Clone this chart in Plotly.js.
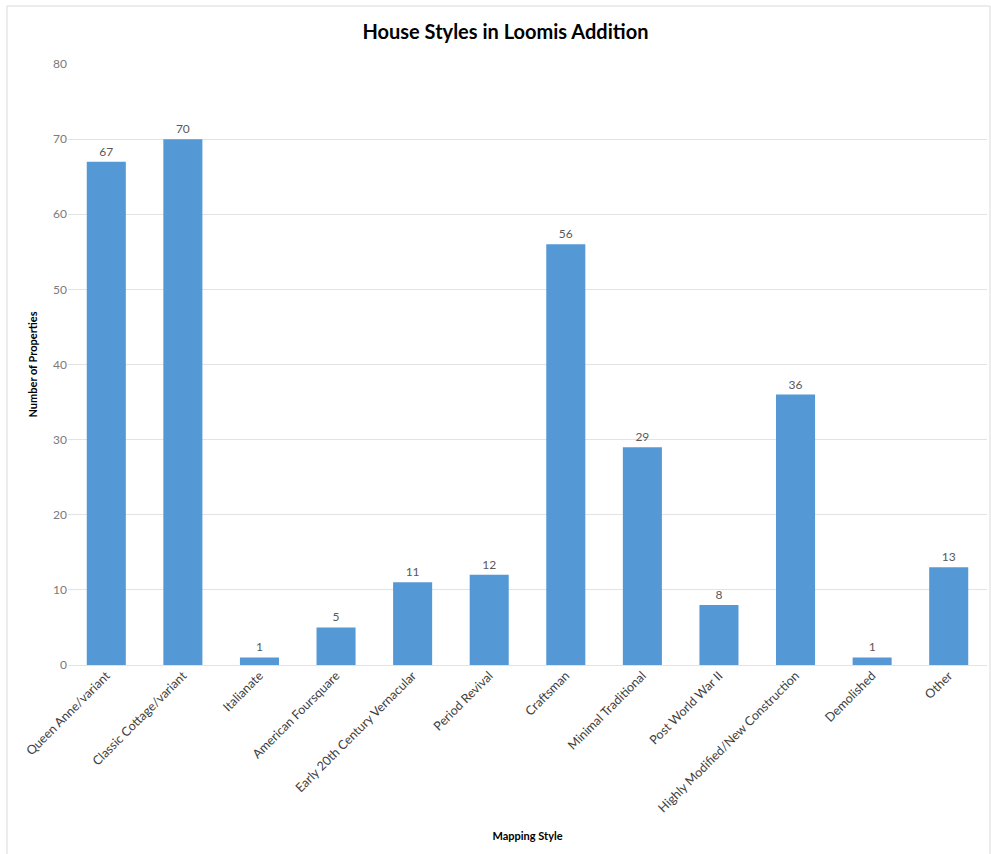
<!DOCTYPE html>
<html>
<head>
<meta charset="utf-8">
<script src="https://cdn.plot.ly/plotly-3.0.1.min.js"></script>
<style>html,body{margin:0;padding:0;background:#fff;}#chart{width:991px;height:854px;}</style>
</head>
<body>
<div id="chart"></div>
<script>
const categories = ["Queen Anne/variant","Classic Cottage/variant","Italianate","American Foursquare","Early 20th Century Vernacular","Period Revival","Craftsman","Minimal Traditional","Post World War II","Highly Modified/New Construction","Demolished","Other"];
const counts = [67,70,1,5,11,12,56,29,8,36,1,13];
const yTicks = [0,10,20,30,40,50,60,70,80];

const trace = {
  type: 'bar',
  x: categories,
  y: counts,
  text: counts.map(String),
  textposition: 'outside',
  cliponaxis: false,
  textfont: {family: 'Lato, "Open Sans", sans-serif', size: 12, color: '#595959'},
  marker: {color: '#5598d6', line: {width: 0}},
  hoverinfo: 'x+y'
};

const layout = {
  width: 991, height: 854,
  margin: {l: 68, r: 4, t: 64, b: 189},
  paper_bgcolor: '#ffffff', plot_bgcolor: '#ffffff',
  bargap: 0.49,
  showlegend: false,
  font: {family: 'Lato, "Open Sans", sans-serif'},
  title: {text: '<b>House Styles in Loomis Addition</b>', x: 0.51, xanchor: 'center', y: 0.962, yanchor: 'middle',
          font: {family: 'Lato, "Open Sans", sans-serif', size: 20, color: '#000000'}},
  xaxis: {
    type: 'category', tickangle: -45, showgrid: false, zeroline: false, showline: false,
    ticks: '', tickfont: {size: 12.5, color: '#404040'},
    title: {text: '<b>Mapping Style</b>', font: {size: 11, color: '#000000'}, standoff: 17},
    automargin: false
  },
  yaxis: {
    range: [0, 80], tickvals: yTicks, ticktext: yTicks.map(String),
    showgrid: true, gridcolor: '#e3e3e3', gridwidth: 1, zeroline: true, zerolinecolor: '#e3e3e3',
    showline: false, ticks: '', ticklen: 0,
    tickfont: {size: 12, color: '#7a7a7a'},
    title: {text: '<b>Number of Properties</b>', font: {size: 11, color: '#000000'}, standoff: 13},
    automargin: false
  },
  shapes: [{
    type: 'rect', xref: 'paper', yref: 'paper',
    x0: -0.0664, x1: 1.0033, y0: -0.32, y1: 1.0965,
    line: {color: '#d9d9d9', width: 1}, fillcolor: 'rgba(0,0,0,0)', layer: 'below'
  }]
};

Plotly.newPlot('chart', [trace], layout, {displayModeBar: false, staticPlot: true});
</script>
</body>
</html>
